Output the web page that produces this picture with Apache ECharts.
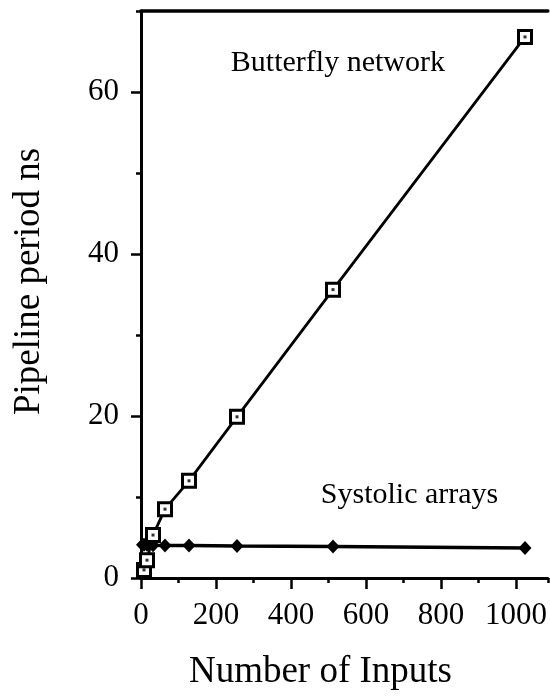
<!DOCTYPE html>
<html>
<head>
<meta charset="utf-8">
<script src="https://cdn.jsdelivr.net/npm/echarts@6/dist/echarts.min.js"></script>
<style>
  html, body { margin: 0; padding: 0; background: #fff; }
  #main { width: 550px; height: 696px; }
</style>
</head>
<body>
<div id="main"></div>
<script>
// number of inputs
var butterflyX = [8, 16, 32, 64, 128, 256, 512, 1024];
var butterflyY = [1.0, 2.2, 5.3, 8.5, 12.0, 19.9, 35.6, 66.8];
var systolicX = [4, 8, 16, 32, 64, 128, 256, 512, 1024];
var systolicY = [4.1, 4.1, 4.1, 4.05, 4.0, 4.0, 3.95, 3.9, 3.7];
var xLabelTicks = [0, 200, 400, 600, 800, 1000];
var yLabelTicks = [0, 20, 40, 60];

var font = "'Liberation Serif', 'DejaVu Serif', serif";

function pairs(xs, ys) {
  return xs.map(function (x, i) { return [x, ys[i]]; });
}

var myChart = echarts.init(document.getElementById("main"));
myChart.setOption({
  animation: false,
  grid: { left: 141, right: 0, top: 11, bottom: 116 },
  xAxis: [
    {
      type: "value",
      min: 0,
      max: 1085,
      interval: 100,
      name: "Number of Inputs",
      nameLocation: "middle",
      nameGap: 76,
      nameTextStyle: { color: "#000", fontFamily: font, fontSize: 37, padding: [0, 48, 0, 0] },
      axisLine: { lineStyle: { color: "#000", width: 3 } },
      axisTick: { length: 5, lineStyle: { color: "#000", width: 2.5 } },
      axisLabel: {
        customValues: xLabelTicks,
        formatter: function (v) { return String(v); },
        margin: 22,
        color: "#000",
        fontFamily: font,
        fontSize: 31
      },
      splitLine: { show: false }
    },
    {
      type: "value",
      position: "bottom",
      min: 0,
      max: 1085,
      axisLine: { show: false },
      axisTick: { customValues: xLabelTicks, length: 11, lineStyle: { color: "#000", width: 2.5 } },
      axisLabel: { show: false },
      splitLine: { show: false }
    },
    {
      type: "value",
      position: "top",
      min: 0,
      max: 1085,
      axisLine: { lineStyle: { color: "#000", width: 3.5 } },
      axisTick: { show: false },
      axisLabel: { show: false },
      splitLine: { show: false }
    }
  ],
  yAxis: [
    {
      type: "value",
      min: 0,
      max: 70,
      interval: 10,
      name: "Pipeline period ns",
      nameLocation: "middle",
      nameRotate: 90,
      nameGap: 93,
      nameTextStyle: { color: "#000", fontFamily: font, fontSize: 37, padding: [0, 0, 0, 26] },
      axisLine: { lineStyle: { color: "#000", width: 3 } },
      axisTick: { length: 5, lineStyle: { color: "#000", width: 2.5 } },
      axisLabel: {
        customValues: yLabelTicks,
        margin: 22,
        color: "#000",
        fontFamily: font,
        fontSize: 31
      },
      splitLine: { show: false }
    },
    {
      type: "value",
      position: "left",
      min: 0,
      max: 70,
      axisLine: { show: false },
      axisTick: { customValues: yLabelTicks, length: 10, lineStyle: { color: "#000", width: 2.5 } },
      axisLabel: { show: false },
      splitLine: { show: false }
    }
  ],
  series: [
    {
      name: "Systolic arrays",
      type: "line",
      data: pairs(systolicX, systolicY),
      symbol: "diamond",
      symbolSize: [13, 14],
      itemStyle: { color: "#000" },
      lineStyle: { color: "#000", width: 3.5 },
      markPoint: {
        symbol: "circle",
        symbolSize: 0,
        label: {
          show: true,
          position: "inside",
          formatter: "{b}",
          color: "#000",
          fontFamily: font,
          fontSize: 30
        },
        data: [{ name: "Systolic arrays", coord: [716, 10.2] }]
      },
      z: 2
    },
    {
      name: "Butterfly network",
      type: "line",
      data: pairs(butterflyX, butterflyY),
      symbol: "rect",
      symbolSize: 13,
      itemStyle: { color: "#fff", borderColor: "#000", borderWidth: 3 },
      lineStyle: { color: "#000", width: 2.8 },
      markPoint: {
        symbol: "circle",
        symbolSize: 0,
        label: {
          show: true,
          position: "inside",
          formatter: "{b}",
          color: "#000",
          fontFamily: font,
          fontSize: 30
        },
        data: [{ name: "Butterfly network", coord: [525, 63.6] }]
      },
      z: 3
    },
    {
      // centre dots of the square markers
      name: "Butterfly dots",
      type: "scatter",
      data: pairs(butterflyX, butterflyY),
      symbol: "rect",
      symbolSize: 3,
      itemStyle: { color: "#000" },
      silent: true,
      z: 4
    }
  ]
});
</script>
</body>
</html>
